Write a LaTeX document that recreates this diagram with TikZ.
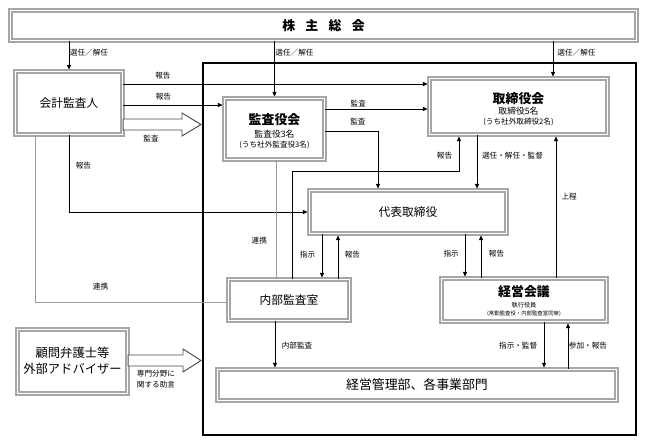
\documentclass[tikz,border=0pt]{standalone}
\usepackage{fontspec}
\setmainfont{Noto Sans CJK JP}
\usetikzlibrary{arrows.meta,fit}

\tikzset{
  box/.style={draw=gray!70, line width=1.1pt, double=white, double distance=1.3pt,
    inner sep=0pt, font=\fontsize{10}{12}\selectfont},
  multi/.style={font=\fontsize{7.5}{9}\selectfont},
  arr/.style={-{Triangle[length=4pt,width=3.6pt]}, line width=0.6pt, shorten >=1.2pt},
  link/.style={draw=gray!80, line width=0.6pt},
  lbl/.style={font=\fontsize{6.5}{7.5}\selectfont, inner sep=1.5pt},
  hollow/.style={draw=black!70, line width=0.8pt, fill=white},
}
% text of a box, centred on the box without its own height
\newcommand{\boxline}[1]{\raisebox{-0.38em}[0pt][0pt]{#1}}
\newcommand{\boxlines}[2][0pt]{\raisebox{\dimexpr-0.25em-#1\relax}[0pt][0pt]{%
  \begin{tabular}{@{}c@{}}#2\end{tabular}}}
\newcommand{\boxtitle}[1]{{\fontsize{11}{13}\selectfont\bfseries #1}}
\newcommand{\boxnote}[1]{{\fontsize{6.5}{8}\selectfont #1}}

\begin{document}
\begin{tikzpicture}[x=0.3mm, y=-0.3mm]
  \useasboundingbox (0,0) rectangle (648,445);
  \draw[line width=2.2pt] (203,63) rectangle (636,435); %frame

  % boxes
  \node[box, fit={(10.5,10.5) (636.5,40.5)}, font=\fontsize{11}{13}\selectfont\bfseries] (kabu)
    {\boxline{株\hspace{0.8em}主\hspace{0.8em}総\hspace{0.8em}会}};
  \node[box, fit={(15.5,71.5) (122.5,134.5)}] (kaikei) {\boxline{会計監査人}};
  \node[box, multi, fit={(224.5,98.5) (324.5,159.5)}] (kansa)
    {\boxlines[2.5pt]{\boxtitle{監査役会}\\[2pt]監査役3名\\\boxnote{(うち社外監査役3名)}}};
  \node[box, multi, fit={(429.5,78.5) (607.5,134.5)}] (tori)
    {\boxlines[3pt]{\boxtitle{取締役会}\\取締役5名\\\boxnote{(うち社外取締役2名)}}};
  \node[box, fit={(309.5,190.5) (506.5,233.5)}] (daihyo) {\boxline{代表取締役}};
  \node[box, fit={(228.5,279.5) (349.5,320.5)}] (naibu) {\boxline{内部監査室}};
  \node[box, fit={(441.5,278.5) (606.5,321.5)}, font=\fontsize{5.3}{7}\selectfont] (keiei)
    {\boxlines[1.5pt]{\boxtitle{経営会議}\\[2pt]執行役員\\{\fontsize{4.6}{6}\selectfont (常勤監査役・内部監査室同席)}}};
  \node[box, fit={(217.5,369.5) (616.5,400.5)}, font=\fontsize{11}{13}\selectfont] (bumon)
    {\boxline{経営管理部、各事業部門}};
  \node[box, fit={(17.5,329.5) (127.5,393.5)}, font=\fontsize{10.5}{13.5}\selectfont] (komon)
    {\boxlines[1pt]{顧問弁護士等\\外部アドバイザー}};

  % 選任／解任
  \draw[arr] (kaikei.north |- kabu.south) -- (kaikei.north) node[lbl, right=-1pt, pos=0.37] {選任／解任};
  \draw[arr] (kansa.north |- kabu.south) -- (kansa.north) node[lbl, right=-1pt, pos=0.2] {選任／解任};
  \draw[arr] (kabu.south -| 553,0) -- (tori.north -| 553,0) node[lbl, right=2pt, pos=0.3] {選任／解任};

  % 会計監査人
  \draw[arr] (kaikei.east |- 0,84) -- (tori.west |- 0,84) node[lbl, above=2pt, pos=0.13] {報告};
  \draw[arr] (kaikei.east |- 0,105) -- (kansa.west |- 0,105) node[lbl, above=2pt, pos=0.4] {報告};
  \draw[arr] (kaikei.south) |- (daihyo.west) node[lbl, right=4pt, pos=0.2] {報告};
  \draw[link] (kaikei.south -| 35,0) |- (naibu.west |- 0,302) node[lbl, above=8pt, pos=0.67] {連携};
  \draw[hollow] (kaikei.east |- 0,119) -- (182,119) -- (182,113) -- (201,124.5) -- (182,136)
    -- (182,130) -- (kaikei.east |- 0,130) -- cycle;
  \node[lbl] (kansalbl) at (151,139) {監査};

  % 監査役会
  \draw[arr] (kansa.east |- 0,109) -- (tori.west |- 0,109) node[lbl, above=0pt, pos=0.32] {監査};
  \draw[arr] (kansa.east |- 0,131) -| (daihyo.north -| 378,0) node[lbl, above=3.5pt, pos=0.31] {監査};
  \draw[link] (kansa.south -| 276,0) -- (naibu.north -| 276,0) node[lbl, left=6pt, pos=0.68] {連携};

  % 取締役会・代表取締役
  \draw[arr] (naibu.north -| 292,0) |- (459,171) -- (tori.south -| 459,0) node[lbl, left=4pt, pos=0.44] {報告};
  \draw[arr] (tori.south -| 477,0) -- (daihyo.north -| 477,0) node[lbl, right=2.5pt, pos=0.37] {選任・解任・監督};
  \draw[arr] (keiei.north -| 556,0) -- (tori.south -| 556,0) node[lbl, right=3pt, pos=0.57] {上程};
  \draw[arr] (daihyo.south -| 322,0) -- (naibu.north -| 322,0) node[lbl, left=4pt, pos=0.45] {指示};
  \draw[arr] (naibu.north -| 338,0) -- (daihyo.south -| 338,0) node[lbl, right=4pt, pos=0.55] {報告};
  \draw[arr] (daihyo.south -| 465,0) -- (keiei.north -| 465,0) node[lbl, left=3.5pt, pos=0.45] {指示};
  \draw[arr] (keiei.north -| 481,0) -- (daihyo.south -| 481,0) node[lbl, right=5pt, pos=0.55] {報告};

  % 経営管理部、各事業部門
  \draw[arr] (naibu.south -| 275,0) -- (bumon.north -| 275,0) node[lbl, right=4pt, pos=0.52] {内部監査};
  \draw[arr] (keiei.south -| 544,0) -- (bumon.north -| 544,0) node[lbl, left=4pt, pos=0.5] {指示・監督};
  \draw[arr] (bumon.north -| 568,0) -- (keiei.south -| 568,0) node[lbl, right=-1pt, pos=0.5] {参加・報告};

  % 顧問弁護士等
  \draw[hollow] (komon.east |- 0,355) -- (183,355) -- (183,349) -- (201,360.5) -- (183,372)
    -- (183,366) -- (komon.east |- 0,366) -- cycle;
  \node[lbl, align=center, font=\fontsize{6.5}{9}\selectfont] (komonlbl) at (156,379) {専門分野に\\関する助言};
\end{tikzpicture}
\end{document}
